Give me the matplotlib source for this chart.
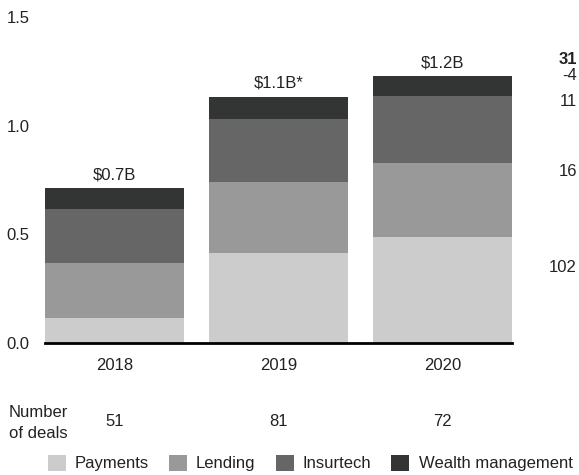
import numpy as np
import matplotlib
matplotlib.use("Agg")
import matplotlib.pyplot as plt

plt.rcParams['font.family'] = ['Liberation Sans', 'DejaVu Sans']

years = ['2018', '2019', '2020']
payments = [0.115, 0.415, 0.488]
lending = [0.254, 0.327, 0.341]
insurtech = [0.249, 0.290, 0.309]
wealth = [0.096, 0.102, 0.089]
totals_label = ['$0.7B', '$1.1B*', '$1.2B']
deals = [51, 81, 72]
side_values = ['31', '-4', '11', '16', '102']

segments = [('Payments', payments, '#cccccc'),
            ('Lending', lending, '#999999'),
            ('Insurtech', insurtech, '#666666'),
            ('Wealth management', wealth, '#333434')]

FS = 12
TXT = '#222222'

fig = plt.figure(figsize=(5.79, 4.75), dpi=100)
ax = fig.add_axes([45 / 579, 1 - 343 / 475, 467 / 579, 326 / 475])

x = np.arange(len(years))
bottom = np.zeros(len(years))
for name, vals, color in segments:
    ax.bar(x, vals, width=0.85, bottom=bottom, color=color, label=name)
    bottom += np.array(vals)

for xi, top, lab in zip(x, bottom, totals_label):
    ax.annotate(lab, (xi, top), xytext=(0, 4), textcoords='offset points',
                ha='center', va='bottom', fontsize=FS, color=TXT)

ax.set_xlim(-0.425, 2.425)
ax.set_ylim(0, 1.5)
ax.set_yticks([0, 0.5, 1.0, 1.5])
ax.set_yticklabels(['0.0', '0.5', '1.0', '1.5'])
ax.set_xticks(x)
ax.set_xticklabels(years)
ax.tick_params(axis='both', length=0, labelsize=FS, colors=TXT)
ax.tick_params(axis='y', pad=11)
ax.tick_params(axis='x', pad=11)
for s in ['top', 'right', 'left']:
    ax.spines[s].set_visible(False)
ax.spines['bottom'].set_linewidth(2)
ax.spines['bottom'].set_color('black')

# number of deals row
fig.text(9 / 579, 1 - 423 / 475, 'Number\nof deals', ha='left', va='center',
         fontsize=FS, color=TXT, linespacing=1.5)
for xi, d in zip(x, deals):
    px = ax.transData.transform((xi, 0))[0] / fig.dpi / fig.get_figwidth()
    fig.text(px, 1 - 422 / 475, str(d), ha='center', va='center',
             fontsize=FS, color=TXT)

# side annotations of the neighbouring panel (cut at the edge in the original)
side_y = [59, 76, 101, 172, 267]
for v, yy in zip(side_values, side_y):
    fig.text(577 / 579, 1 - yy / 475, v, ha='right', va='center', fontsize=FS,
             color=TXT, fontweight='bold' if v == '31' else 'normal')

handles, labels = ax.get_legend_handles_labels()
fig.legend(handles, labels, loc='center', bbox_to_anchor=(310 / 579, 1 - 463 / 475),
           ncol=4, frameon=False, fontsize=FS, handlelength=1.08, handleheight=1.08,
           handletextpad=0.55, columnspacing=1.2, labelcolor=TXT)

fig.savefig('out.png', dpi=100)
